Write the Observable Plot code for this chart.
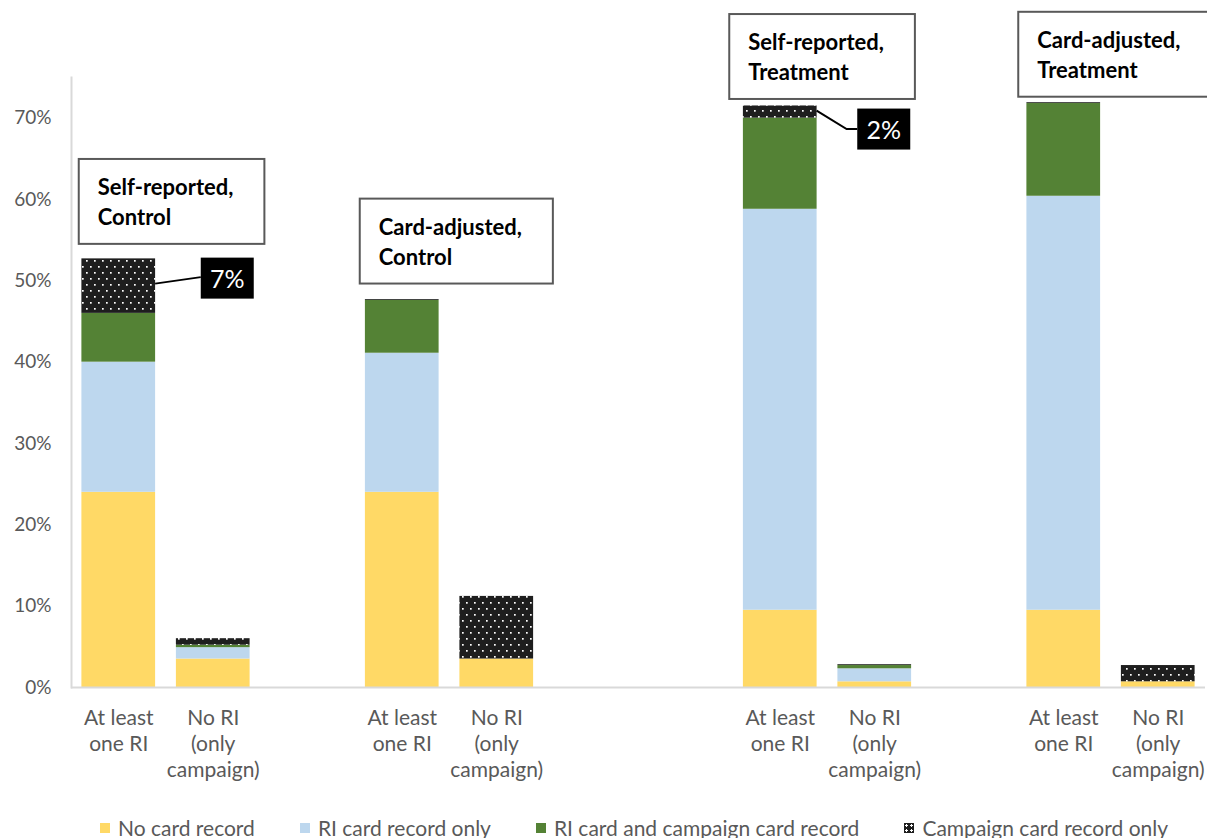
<!DOCTYPE html>
<html>
<head>
<meta charset="utf-8">
<script src="https://cdn.jsdelivr.net/npm/d3@7"></script>
<script src="https://cdn.jsdelivr.net/npm/@observablehq/plot@0.6"></script>
<style>
  html, body { margin: 0; padding: 0; background: #fff; }
  #chart svg { display: block; }
  .legend { display: flex; align-items: center; margin-top: 17px; margin-left: 100px; gap: 45px;
            font-family: Lato, sans-serif; font-size: 21px; color: #595959; line-height: 21px; white-space: nowrap; }
  .legend .item { display: flex; align-items: center; }
  .legend .sw { width: 10px; height: 10px; margin-right: 8px; display: inline-block; }
</style>
</head>
<body>
<div id="chart"></div>
<script>
// ---- data ----
const slotOrder = ["SC_A","SC_B","gap1","CC_A","CC_B","gap2","gap3","ST_A","ST_B","gap4","CT_A","CT_B"];
const barSlots = ["SC_A","SC_B","CC_A","CC_B","ST_A","ST_B","CT_A","CT_B"];
const barLabels = ["At least\none RI","No RI\n(only\ncampaign)","At least\none RI","No RI\n(only\ncampaign)",
                   "At least\none RI","No RI\n(only\ncampaign)","At least\none RI","No RI\n(only\ncampaign)"];
const groupLabels = ["Self-reported,\nControl","Card-adjusted,\nControl","Self-reported,\nTreatment","Card-adjusted,\nTreatment"];
const seriesNames = ["No card record","RI card record only","RI card and campaign card record","Campaign card record only"];
const noCard        = [24.0, 3.5, 24.0, 3.5,  9.5, 0.7,  9.5, 0.7];
const riOnly        = [16.0, 1.4, 17.1, 0.0, 49.3, 1.6, 50.9, 0.0];
const riAndCampaign = [ 6.0, 0.3,  6.5, 0.0, 11.2, 0.4, 11.4, 0.0];
const campaignOnly  = [ 6.7, 0.8,  0.1, 7.7,  1.5, 0.1,  0.1, 2.0];
const yTicks = [0,10,20,30,40,50,60,70];
const calloutBars = [0, 4];

// ---- styles ----
const seriesColors = ["#FFD966","#BDD7EE","#548235","url(#dots)"];
// label layout offsets (relative to the bar's top)
const groupLabelDx = [-21, -23.5, -32, -26.5];
const groupLabelDy = [-34, -35, -26, -25];
const calloutDx = [108.5, 103.5];
const calloutDy = [-6, 19];

const seriesValues = [noCard, riOnly, riAndCampaign, campaignOnly];
const rows = barSlots.flatMap((slot, i) => seriesNames.map((s, k) => ({slot, series: s, value: seriesValues[k][i]})));
const totals = barSlots.map((_, i) => seriesValues.reduce((a, arr) => a + arr[i], 0));
const barRows = barSlots.map((slot, i) => ({slot, label: barLabels[i]}));

const groupMarks = groupLabels.map((t, g) => Plot.text([{slot: barSlots[2*g], y: totals[2*g], t}], {
  x: "slot", y: "y", text: "t", dx: groupLabelDx[g], dy: groupLabelDy[g],
  textAnchor: "start", lineAnchor: "bottom", lineHeight: 1.36,
  fontSize: 22, fontWeight: "bold", fill: "#000", className: "grp-label"
}));
const calloutMarks = calloutBars.map((i, c) => Plot.text([{slot: barSlots[i], y: totals[i] - campaignOnly[i]/2, t: Math.round(campaignOnly[i]) + "%"}], {
  x: "slot", y: "y", text: "t", dx: calloutDx[c], dy: calloutDy[c],
  textAnchor: "middle", lineAnchor: "middle", fontSize: 25, fill: "#fff", className: "callout"
}));

const plot = Plot.plot({
  width: 1207, height: 800,
  marginTop: 77, marginBottom: 113, marginLeft: 71, marginRight: 2,
  style: {fontFamily: "Lato, sans-serif", fontSize: "19px", color: "#595959", background: "white", overflow: "visible"},
  x: {type: "band", domain: slotOrder, paddingInner: 0.22, paddingOuter: 0.11, round: false, axis: null},
  y: {domain: [0, 75]},
  color: {type: "ordinal", domain: seriesNames, range: seriesColors},
  marks: [
    Plot.axisY({ticks: yTicks, tickFormat: d => d + "%", tickSize: 0, tickPadding: 20, fontSize: 19, fill: "#595959", label: null}),
    Plot.frame({anchor: "left", stroke: "#d9d9d9", strokeWidth: 2}),
    Plot.barY(rows, {x: "slot", y: "value", fill: "series", inset: 0}),
    Plot.ruleY([0], {stroke: "#d9d9d9", strokeWidth: 2}),
    Plot.text(barRows, {x: "slot", text: "label", frameAnchor: "bottom", lineAnchor: "top", dy: 19, lineHeight: 1.24, fontSize: 21, fill: "#595959"}),
    ...groupMarks,
    ...calloutMarks
  ]
});
document.getElementById("chart").append(plot);

const svg = d3.select(plot);
const defs = svg.insert("defs", ":first-child");
const pat = defs.append("pattern").attr("id", "dots").attr("patternUnits", "userSpaceOnUse").attr("width", 8).attr("height", 12);
pat.append("rect").attr("width", 8).attr("height", 12).attr("fill", "#1e1e1e");
pat.append("rect").attr("x", 2).attr("y", 2).attr("width", 1.7).attr("height", 1.7).attr("fill", "#fff");
pat.append("rect").attr("x", 6).attr("y", 8).attr("width", 1.7).attr("height", 1.7).attr("fill", "#fff");

function offsetOf(el) {
  const t = el.transform && el.transform.baseVal.consolidate();
  return t ? [t.matrix.e, t.matrix.f] : [0, 0];
}

// boxes behind group labels (inside the label's own group, so they share its offset)
svg.selectAll("g.grp-label text").each(function() {
  const b = this.getBBox();
  const [tx, ty] = offsetOf(this);
  d3.select(this.parentNode).insert("rect", ":first-child")
    .attr("x", tx + b.x - 19).attr("y", ty + b.y - 14).attr("width", b.width + 50).attr("height", b.height + 28)
    .attr("fill", "#fff").attr("stroke", "#595959").attr("stroke-width", 2);
});
// callout boxes + leader lines, in absolute coordinates
const sx = plot.scale("x"), sy = plot.scale("y");
svg.selectAll("g.callout text").each(function(_, c) {
  const b = this.getBBox();
  const m = this.getCTM();
  const cx = m.e + b.x + b.width/2, cy = m.f + b.y + b.height/2;
  const bx = cx - 26.5, by = cy - 20.5;
  const markG = this.parentNode;
  const layer = d3.select(markG.parentNode).insert("g", () => markG);
  const i = calloutBars[c];
  const barRight = sx.apply(barSlots[i]) + sx.bandwidth;
  const segY = sy.apply(totals[i] - campaignOnly[i]/2);
  const path = c === 0
    ? `M${barRight},${segY - 2}L${bx},${cy - 1}`
    : `M${barRight},${segY - 1}L${barRight + 30},${cy}L${bx},${cy}`;
  layer.append("path").attr("d", path).attr("fill", "none").attr("stroke", "#000").attr("stroke-width", 2);
  layer.append("rect").attr("x", bx).attr("y", by).attr("width", 53).attr("height", 41).attr("fill", "#000");
});

// legend
const legend = d3.select("body").append("div").attr("class", "legend");
seriesNames.forEach((s, k) => {
  const it = legend.append("div").attr("class", "item");
  const sw = it.append("span").attr("class", "sw");
  if (k === 3) sw.style("background-color", "#1e1e1e").style("background-image", "radial-gradient(circle, #fff 1px, transparent 1.3px)").style("background-size", "5px 5px");
  else sw.style("background", seriesColors[k]);
  it.append("span").text(s);
});
</script>
</body>
</html>
